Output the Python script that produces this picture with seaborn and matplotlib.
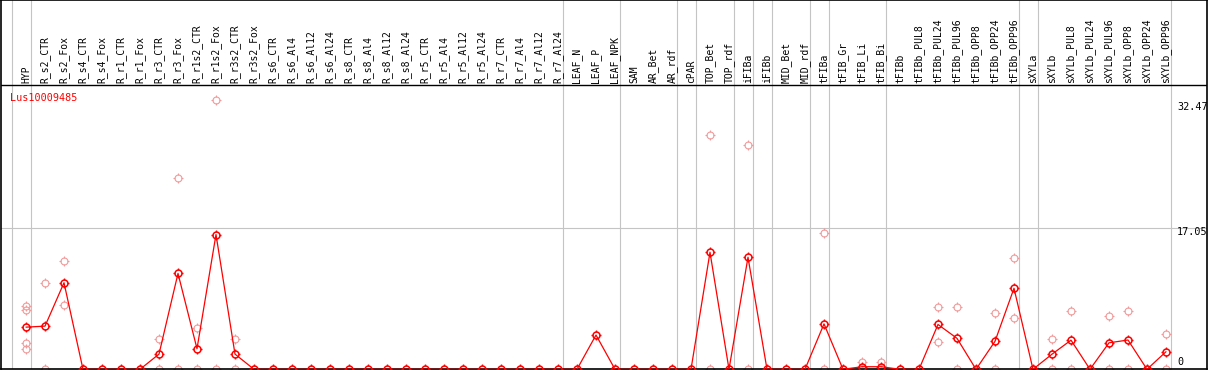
import numpy as np
import pandas as pd
import matplotlib
matplotlib.use("Agg")
import matplotlib.pyplot as plt
from matplotlib.path import Path
from matplotlib import transforms
import seaborn as sns

# === Data ===
samples = ["HYP", "R_s2_CTR", "R_s2_Fox", "R_s4_CTR", "R_s4_Fox", "R_r1_CTR", "R_r1_Fox",
           "R_r3_CTR", "R_r3_Fox", "R_r1s2_CTR", "R_r1s2_Fox", "R_r3s2_CTR", "R_r3s2_Fox",
           "R_s6_CTR", "R_s6_Al4", "R_s6_Al12", "R_s6_Al24", "R_s8_CTR", "R_s8_Al4",
           "R_s8_Al12", "R_s8_Al24", "R_r5_CTR", "R_r5_Al4", "R_r5_Al12", "R_r5_Al24",
           "R_r7_CTR", "R_r7_Al4", "R_r7_Al12", "R_r7_Al24", "LEAF_N", "LEAF_P", "LEAF_NPK",
           "SAM", "AR_Bet", "AR_rdf", "cPAR", "TOP_Bet", "TOP_rdf", "iFIBa", "iFIBb",
           "MID_Bet", "MID_rdf", "tFIBa", "tFIB_Gr", "tFIB_Li", "tFIB_Bi", "tFIBb",
           "tFIBb_PUL8", "tFIBb_PUL24", "tFIBb_PUL96", "tFIBb_OPP8", "tFIBb_OPP24",
           "tFIBb_OPP96", "sXYLa", "sXYLb", "sXYLb_PUL8", "sXYLb_PUL24", "sXYLb_PUL96",
           "sXYLb_OPP8", "sXYLb_OPP24", "sXYLb_OPP96"]

mean_expr = [5.08, 5.2, 10.43, 0, 0, 0, 0,
             1.83, 11.55, 2.48, 16.24, 1.83, 0,
             0, 0, 0, 0, 0, 0,
             0, 0, 0, 0, 0, 0,
             0, 0, 0, 0, 0, 4.13, 0,
             0, 0, 0, 0, 14.1, 0, 13.5, 0,
             0, 0, 5.47, 0, 0.31, 0.31, 0,
             0, 5.4, 3.73, 0, 3.37,
             9.76, 0, 1.82, 3.51, 0, 3.19,
             3.53, 0, 2.12]

rep_samples = ["HYP", "HYP", "HYP", "HYP", "R_s2_CTR", "R_s2_CTR", "R_s2_Fox", "R_s2_Fox",
               "R_r3_CTR", "R_r3_CTR", "R_r3_Fox", "R_r3_Fox", "R_r1s2_CTR", "R_r1s2_CTR",
               "R_r1s2_Fox", "R_r1s2_Fox", "R_r3s2_CTR", "R_r3s2_CTR", "TOP_Bet", "TOP_Bet",
               "iFIBa", "iFIBa", "tFIBa", "tFIBa", "tFIB_Li", "tFIB_Bi",
               "tFIBb_PUL24", "tFIBb_PUL24", "tFIBb_PUL96", "tFIBb_PUL96",
               "tFIBb_OPP24", "tFIBb_OPP24", "tFIBb_OPP96", "tFIBb_OPP96",
               "sXYLb", "sXYLb", "sXYLb_PUL8", "sXYLb_PUL8", "sXYLb_PUL96", "sXYLb_PUL96",
               "sXYLb_OPP8", "sXYLb_OPP8", "sXYLb_OPP96", "sXYLb_OPP96"]
rep_expr = [7.65, 7.09, 3.14, 2.42, 10.4, 0, 13.06, 7.77,
            3.66, 0, 23.1, 0, 4.96, 0,
            32.47, 0, 3.65, 0, 28.2, 0,
            27.0, 0, 16.4, 0, 0.92, 0.92,
            7.54, 3.25, 7.47, 0,
            6.75, 0, 13.37, 6.14,
            3.65, 0, 7.02, 0, 6.39, 0,
            7.06, 0, 4.25, 0]

# last sample of each group (gray separators drawn after it)
group_ends = [-1, 0, 28, 31, 34, 35, 37, 38, 39, 41, 42, 45, 52, 53, 60]
scale_ticks = [32.47, 17.05, 0]
gene = "Lus10009485"

means = pd.DataFrame({"idx": np.arange(len(samples)), "expr": mean_expr})
reps = pd.DataFrame({"idx": [samples.index(s) for s in rep_samples], "expr": rep_expr})

# little ticks sticking out of each circle
tick_mk = Path([(0, 1), (0, 1.45), (0, -1), (0, -1.45), (1, 0), (1.45, 0), (-1, 0), (-1.45, 0)],
               [Path.MOVETO, Path.LINETO] * 4)

sns.set_style("white")
plt.rcParams["font.family"] = ["DejaVu Sans Mono", "DejaVu Sans"]

W, H = 1209, 370
fig = plt.figure(figsize=(W / 100, H / 100), dpi=100)
ax = fig.add_axes([1 / W, 0.7 / H, 1206 / W, 369.3 / H])

px = 8.3  # pixels per unit
y_top = 369.3 / px
y_hdr = (369.3 - 85) / px
ax.set_xlim((1 - 26) / 19, (1207 - 26) / 19)
ax.set_ylim(0, y_top)

# === Grid / separators ===
for g in group_ends:
    ax.axvline(g + 0.25, color="#c4c4c4", lw=0.8, zorder=0)
ax.axhline(17.05, color="#c4c4c4", lw=0.8, zorder=0)
ax.axhline(y_hdr, color="black", lw=1.0, zorder=1)

# === Replicates ===
pink = "#f29a9a"
ax.plot(reps["idx"], reps["expr"], ls="none", marker="o", markersize=5.0,
        mfc="none", mec=pink, mew=0.8, zorder=2)
ax.plot(reps["idx"], reps["expr"], ls="none", marker=tick_mk, markersize=7.0,
        mec=pink, mew=0.8, zorder=2)

# === Mean line ===
sns.lineplot(data=means, x="idx", y="expr", ax=ax, color="#ff0000", lw=0.9,
             marker="o", markersize=5.0, mfc="none", mec="#ff0000", mew=1.1,
             sort=False, zorder=3)
ax.plot(means["idx"], means["expr"], ls="none", marker=tick_mk, markersize=7.2,
        mec="#ff0000", mew=1.0, zorder=3)

# === Labels ===
for i, s in enumerate(samples):
    ax.text(i, (369.3 - 83) / px, s, rotation=90, ha="center", va="bottom",
            fontsize=7, color="black")

gene_tr = transforms.blended_transform_factory(ax.transAxes, ax.transData)
ax.text(9 / 1206, (369.3 - 97.7) / px, gene, transform=gene_tr,
        color="#ff0000", fontsize=7.3, va="center", ha="left")

offsets = [-5, -3, 5]
for tk, off in zip(scale_ticks, offsets):
    ax.annotate(f"{tk:g}", xy=(1176 / 1206, tk), xycoords=("axes fraction", "data"),
                xytext=(0, off), textcoords="offset points", va="center", ha="left",
                fontsize=7.3, color="black")

ax.set_xticks([])
ax.set_yticks([])
ax.set_xlabel("")
ax.set_ylabel("")
for sp in ax.spines.values():
    sp.set_color("black")
    sp.set_linewidth(1.2)

fig.savefig("out.png", dpi=100)
